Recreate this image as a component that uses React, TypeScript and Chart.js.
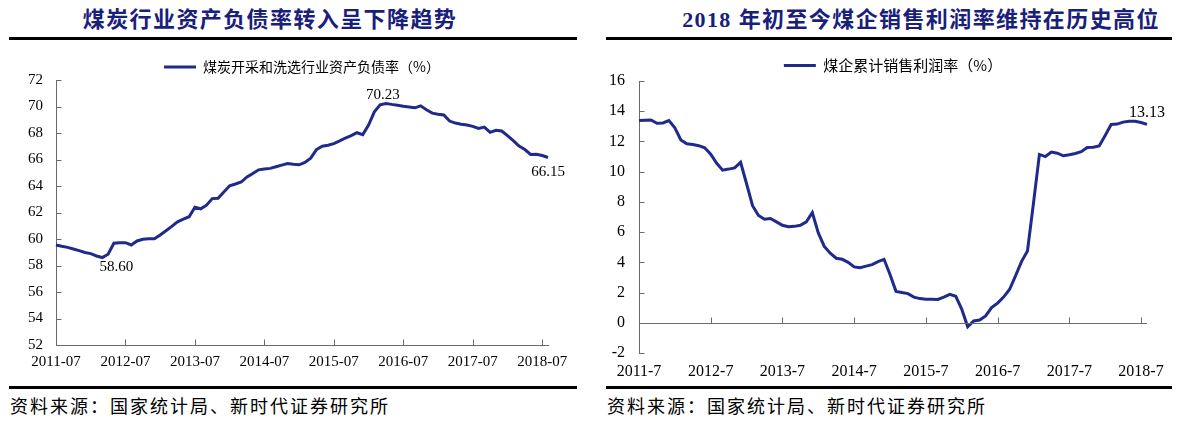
import React, { useEffect, useRef } from "react";
import { Chart, registerables } from "chart.js";

Chart.register(...registerables);

// ---- categories: monthly, 2011-07 .. 2018-08 (86 months) ----
const months: string[] = (() => {
  const out: string[] = [];
  let y = 2011;
  let m = 7;
  while (out.length < 86) {
    out.push(`${y}-${String(m).padStart(2, "0")}`);
    m += 1;
    if (m > 12) {
      m = 1;
      y += 1;
    }
  }
  return out;
})();

// ---- tick labels ----
const leftTickLabels = ["2011-07", "2012-07", "2013-07", "2014-07", "2015-07", "2016-07", "2017-07", "2018-07"];
const rightTickLabels = ["2011-7", "2012-7", "2013-7", "2014-7", "2015-7", "2016-7", "2017-7", "2018-7"];

// ---- series ----
const leftLabel = "煤炭开采和洗选行业资产负债率（%）";
const leftValues = [
  59.55, 59.45, 59.37, 59.25, 59.12, 58.98, 58.9, 58.72, 58.6, 58.85,
  59.68, 59.72, 59.72, 59.55, 59.85, 59.98, 60.02, 60.02, 60.3, 60.62,
  60.95, 61.3, 61.5, 61.68, 62.4, 62.28, 62.55, 63.05, 63.08, 63.55,
  64.02, 64.15, 64.3, 64.68, 64.95, 65.22, 65.28, 65.33, 65.45, 65.58,
  65.7, 65.64, 65.6, 65.78, 66.1, 66.75, 67.0, 67.08, 67.2, 67.4,
  67.62, 67.8, 68.02, 67.88, 68.6, 69.6, 70.12, 70.23, 70.16, 70.1,
  70.02, 69.96, 69.9, 70.05, 69.75, 69.5, 69.42, 69.36, 68.9, 68.75,
  68.66, 68.6, 68.5, 68.35, 68.45, 68.05, 68.2, 68.15, 67.8, 67.42,
  67.02, 66.75, 66.38, 66.4, 66.3, 66.15,
];

const rightLabel = "煤企累计销售利润率（%）";
const rightValues = [
  13.38, 13.4, 13.42, 13.2, 13.22, 13.38, 12.9, 12.1, 11.85, 11.8,
  11.72, 11.58, 11.15, 10.55, 10.1, 10.17, 10.25, 10.62, 9.2, 7.75,
  7.1, 6.85, 6.9, 6.68, 6.45, 6.35, 6.38, 6.45, 6.68, 7.3,
  5.95, 5.05, 4.6, 4.27, 4.2, 4.0, 3.7, 3.65, 3.75, 3.85,
  4.05, 4.2, 3.2, 2.08, 2.0, 1.93, 1.7, 1.6, 1.56, 1.55,
  1.54, 1.7, 1.88, 1.75, 0.9, -0.26, 0.12, 0.18, 0.45, 1.0,
  1.3, 1.7, 2.2, 3.1, 4.05, 4.75, 7.9, 11.14, 11.0, 11.3,
  11.22, 11.05, 11.12, 11.2, 11.32, 11.6, 11.62, 11.7, 12.4, 13.12,
  13.15, 13.28, 13.33, 13.33, 13.25, 13.13,
];

// annotated points (indices into the series)
const leftAnnotated = [8, 57, 85];
const rightAnnotated = [85];

const LINE = "#1f2a8a";
const AXIS = "#6a6a6a";
const SERIF = '"Liberation Serif", "Times New Roman", serif';
const CJK = '"Noto Sans CJK SC", sans-serif';

// Excel-like inside tick marks + (optional) horizontal axis at a base value
const excelAxes = {
  id: "excelAxes",
  afterDraw(chart: any, _args: any, opts: any) {
    const { ctx, chartArea: a, scales } = chart;
    const x = scales.x;
    const y = scales.y;
    const crisp = (v: number) => Math.round(v) + 0.5;
    const ax = crisp(a.left);
    const base = crisp(y.getPixelForValue(opts.baseValue));

    ctx.save();
    ctx.strokeStyle = opts.color;
    ctx.lineWidth = 1;

    ctx.beginPath();
    y.ticks.forEach((t: any) => {
      const py = crisp(y.getPixelForValue(t.value));
      ctx.moveTo(ax, py);
      ctx.lineTo(ax + 5, py);
    });
    ctx.stroke();

    if (opts.drawBase) {
      ctx.beginPath();
      ctx.moveTo(a.left, base);
      ctx.lineTo(a.right, base);
      ctx.stroke();
    }

    ctx.beginPath();
    x.ticks.forEach((_t: any, i: number) => {
      if (i % 12 === 0 && i > 0) {
        const px = crisp(x.getPixelForValue(i));
        ctx.moveTo(px, base);
        ctx.lineTo(px, base - 6);
      }
    });
    ctx.stroke();
    ctx.restore();
  },
};

// value labels on selected points
const pointLabels = {
  id: "pointLabels",
  afterDatasetsDraw(chart: any, _args: any, opts: any) {
    const { ctx } = chart;
    const meta = chart.getDatasetMeta(0);
    const data = chart.data.datasets[0].data;
    ctx.save();
    ctx.font = opts.font;
    ctx.fillStyle = "#000";
    ctx.textAlign = "center";
    ctx.textBaseline = "middle";
    opts.items.forEach((it: any) => {
      const el = meta.data[it.index];
      ctx.fillText(Number(data[it.index]).toFixed(2), el.x + it.dx, el.y + it.dy);
    });
    ctx.restore();
  },
};

type Cfg = {
  label: string;
  values: number[];
  ticks: string[];
  min: number;
  max: number;
  fontSize: number;
  legendSize: number;
  padTop: number;
  padRight: number;
  yWidth: number;
  yPad: number;
  xHeight: number;
  xPad: number;
  legendMax: number;
  base: number;
  xBorder: boolean;
  items: { index: number; dx: number; dy: number }[];
};

function LineChart({ cfg, style }: { cfg: Cfg; style: React.CSSProperties }) {
  const ref = useRef<HTMLCanvasElement | null>(null);
  useEffect(() => {
    if (!ref.current) return;
    const chart = new Chart(ref.current, {
      type: "line",
      data: {
        labels: months,
        datasets: [
          {
            label: cfg.label,
            data: cfg.values,
            borderColor: LINE,
            backgroundColor: LINE,
            borderWidth: 3,
            pointRadius: 0,
            tension: 0,
            fill: false,
          },
        ],
      },
      options: {
        animation: false,
        responsive: false,
        maintainAspectRatio: false,
        events: [],
        layout: { padding: { top: cfg.padTop, left: 0, right: cfg.padRight, bottom: 0 } },
        plugins: {
          legend: {
            display: true,
            position: "top",
            fullSize: false,
            maxHeight: cfg.legendMax,
            labels: {
              usePointStyle: true,
              pointStyle: "line",
              pointStyleWidth: 32,
              padding: 8,
              color: "#000",
              font: { family: CJK, size: cfg.legendSize },
            },
          },
          tooltip: { enabled: false },
          excelAxes: { color: AXIS, baseValue: cfg.base, drawBase: !cfg.xBorder },
          pointLabels: { font: `${cfg.fontSize}px ${SERIF}`, items: cfg.items },
        } as any,
        scales: {
          x: {
            type: "category",
            offset: false,
            grid: { display: false, drawTicks: false },
            border: { display: cfg.xBorder, color: AXIS, width: 1 },
            ticks: {
              autoSkip: false,
              maxRotation: 0,
              minRotation: 0,
              padding: cfg.xPad,
              color: "#000",
              font: { family: SERIF, size: cfg.fontSize },
              callback: (_v: any, i: number) => (i % 12 === 0 ? cfg.ticks[i / 12] : ""),
            },
            afterFit: (s: any) => {
              s.height = cfg.xHeight;
            },
          },
          y: {
            min: cfg.min,
            max: cfg.max,
            grid: { display: false, drawTicks: false },
            border: { display: true, color: AXIS, width: 1 },
            ticks: {
              stepSize: 2,
              padding: cfg.yPad,
              color: "#000",
              font: { family: SERIF, size: cfg.fontSize },
            },
            afterFit: (s: any) => {
              s.width = cfg.yWidth;
            },
          },
        },
      },
      plugins: [excelAxes, pointLabels],
    });
    return () => chart.destroy();
  }, [cfg]);
  return <canvas ref={ref} width={590} height={345} style={{ position: "absolute", display: "block", ...style }} />;
}

const leftCfg: Cfg = {
  label: leftLabel,
  values: leftValues,
  ticks: leftTickLabels,
  min: 52,
  max: 72,
  fontSize: 15,
  legendSize: 14,
  padTop: 12,
  padRight: 42,
  yWidth: 56,
  yPad: 13,
  xHeight: 40,
  xPad: 8,
  legendMax: 28,
  base: 52,
  xBorder: true,
  items: [
    { index: leftAnnotated[0], dx: 14, dy: 10 },
    { index: leftAnnotated[1], dx: -3, dy: -8 },
    { index: leftAnnotated[2], dx: 0, dy: 15 },
  ],
};

const rightCfg: Cfg = {
  label: rightLabel,
  values: rightValues,
  ticks: rightTickLabels,
  min: -2,
  max: 16,
  fontSize: 16,
  legendSize: 15,
  padTop: 10,
  padRight: 33,
  yWidth: 49,
  yPad: 14,
  xHeight: 32,
  xPad: 9,
  legendMax: 31,
  base: 0,
  xBorder: false,
  items: [{ index: rightAnnotated[0], dx: 0, dy: -12 }],
};

const titleBase: React.CSSProperties = {
  position: "absolute",
  top: 6,
  height: 28,
  lineHeight: "28px",
  fontFamily: `"Liberation Serif", ${CJK}`,
  fontWeight: 700,
  fontSize: 22,
  color: "#18207a",
  textAlign: "center",
  whiteSpace: "nowrap",
  letterSpacing: 1.4,
};

const footBase: React.CSSProperties = {
  position: "absolute",
  top: 394,
  height: 22,
  lineHeight: "22px",
  fontFamily: CJK,
  fontSize: 18,
  color: "#000",
  whiteSpace: "nowrap",
  letterSpacing: 2,
};

const rule = (left: number, top: number, width: number): React.CSSProperties => ({
  position: "absolute",
  left,
  top,
  width,
  height: 2.5,
  background: "#000",
});

export default function App() {
  return (
    <div
      style={{
        position: "absolute",
        left: 0,
        top: 0,
        width: 1180,
        height: 422,
        background: "#fff",
        overflow: "hidden",
      }}
    >
      <div style={{ ...titleBase, left: 0, width: 540 }}>煤炭行业资产负债率转入呈下降趋势</div>
      <div style={{ ...titleBase, left: 662, width: 518 }}>2018 年初至今煤企销售利润率维持在历史高位</div>
      <div style={rule(9, 37, 568)} />
      <div style={rule(606, 37, 566)} />
      <LineChart cfg={leftCfg} style={{ left: 0, top: 40 }} />
      <LineChart cfg={rightCfg} style={{ left: 590, top: 40 }} />
      <div style={rule(9, 386, 568)} />
      <div style={rule(606, 386, 566)} />
      <div style={{ ...footBase, left: 10 }}>资料来源：国家统计局、新时代证券研究所</div>
      <div style={{ ...footBase, left: 607 }}>资料来源：国家统计局、新时代证券研究所</div>
    </div>
  );
}
